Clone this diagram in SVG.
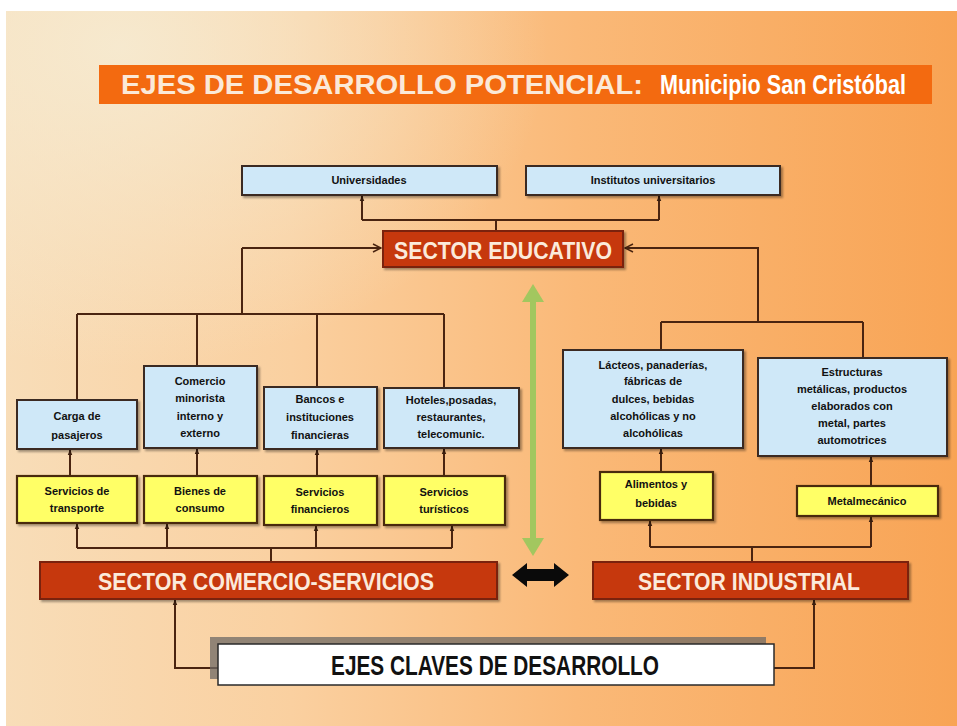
<svg xmlns="http://www.w3.org/2000/svg" width="957" height="726" viewBox="0 0 957 726">
<defs>
<linearGradient id="bg" x1="0" y1="0" x2="1" y2="0">
<stop offset="0" stop-color="#F8DDB8"/>
<stop offset="0.3" stop-color="#FAD0A0"/>
<stop offset="0.6" stop-color="#FAB978"/>
<stop offset="1" stop-color="#F8A455"/>
</linearGradient>
<radialGradient id="glow" cx="0.12" cy="0.05" r="0.45">
<stop offset="0" stop-color="#F6EBD2" stop-opacity="0.9"/>
<stop offset="1" stop-color="#F6EBD2" stop-opacity="0"/>
</radialGradient>
<marker id="ah" viewBox="0 0 10 10" refX="9" refY="5" markerWidth="6" markerHeight="6" orient="auto" markerUnits="userSpaceOnUse">
<path d="M0,1 L10,5 L0,9 z" fill="#3A1E0E"/>
</marker>
<marker id="oh" viewBox="0 0 10 10" refX="9" refY="5" markerWidth="10" markerHeight="10" orient="auto" markerUnits="userSpaceOnUse">
<path d="M1,1 L9,5 L1,9" fill="none" stroke="#4A2410" stroke-width="1.5"/>
</marker>
<filter id="sh" x="-10%" y="-10%" width="130%" height="140%">
<feDropShadow dx="2" dy="2" stdDeviation="1" flood-color="#000" flood-opacity="0.35"/>
</filter>
</defs>
<style>
.blue{fill:#CFE8F8;stroke:#3A2A20;stroke-width:2;filter:url(#sh)}
.yel{fill:#FFFF66;stroke:#4A2A10;stroke-width:2.2;filter:url(#sh)}
.red{fill:#C6380F;stroke:#7A2208;stroke-width:2;filter:url(#sh)}
.t{font-family:"Liberation Sans",Arial,sans-serif;font-weight:bold;font-size:11px;fill:#111;text-anchor:middle;dominant-baseline:central}
.rt{font-family:"Liberation Sans",Arial,sans-serif;font-weight:bold;font-size:24px;fill:#FBEADB;text-anchor:middle;dominant-baseline:central}
.ln{fill:none;stroke:#4A2410;stroke-width:2}
.ar{fill:none;stroke:#4A2410;stroke-width:2;marker-end:url(#ah)}
</style>
<rect x="0" y="0" width="957" height="726" fill="#FFFFFF"/>
<rect x="6" y="11" width="951" height="715" fill="url(#bg)"/>
<rect x="6" y="11" width="951" height="715" fill="url(#glow)"/>

<g id="title">
<rect x="99" y="65" width="833" height="39" fill="#F36A10"/>
<text x="121" y="85" font-family="'Liberation Sans',Arial,sans-serif" font-size="27" font-weight="bold" fill="#FBE9D8" dominant-baseline="central" textLength="522" lengthAdjust="spacingAndGlyphs">EJES DE DESARROLLO POTENCIAL:</text>
<text transform="translate(660,85) scale(0.8,1)" x="0" y="0" font-family="'Liberation Sans',Arial,sans-serif" font-size="27" font-weight="bold" fill="#FFFFFF" dominant-baseline="central">Municipio San Cristóbal</text>
</g>

<g id="connectors">
<path class="ln" d="M496,233 V220 M362,220 H659"/>
<path class="ar" d="M362,220 V196"/>
<path class="ar" d="M659,220 V196"/>
<path class="ln" d="M242,314 V248"/>
<path class="ln" d="M242,248 H381" marker-end="url(#oh)"/>
<path class="ln" d="M758,322 V248 H625" marker-end="url(#oh)"/>
<path class="ln" d="M77,314 H444 M77,314 V400 M197,314 V366 M317,314 V387 M444,314 V388"/>
<path class="ln" d="M661,322 H863 M661,322 V350 M863,322 V358"/>
<path class="ar" d="M70,476 V450"/>
<path class="ar" d="M197,476 V449"/>
<path class="ar" d="M317,476 V450"/>
<path class="ar" d="M444,476 V449"/>
<path class="ar" d="M661,472 V449"/>
<path class="ar" d="M871,486 V457"/>
<path class="ln" d="M271,562 V548 M77,548 H452"/>
<path class="ar" d="M77,548 V524"/>
<path class="ar" d="M167,548 V524"/>
<path class="ar" d="M316,548 V526"/>
<path class="ar" d="M452,548 V526"/>
<path class="ln" d="M752,562 V547 M650,547 H871"/>
<path class="ar" d="M650,547 V521"/>
<path class="ar" d="M871,547 V517"/>
<path class="ar" d="M218,668 H175 V600"/>
<path class="ar" d="M774,668 H814 V600"/>
<g id="green-arrow" opacity="0.85">
<line x1="533" y1="298" x2="533" y2="542" stroke="#93C95A" stroke-width="6"/>
<polygon points="533,284 522,302 544,302" fill="#93C95A"/>
<polygon points="533,556 522,538 544,538" fill="#93C95A"/>
</g>
<polygon id="black-arrow" points="512,575 527,563 527,569 554,569 554,563 569,575 554,587 554,581 527,581 527,587" fill="#0A0A0A"/>
</g>

<g id="universidades"><rect class="blue" x="242" y="166" width="255" height="29"/><text class="t" x="369" y="180">Universidades</text></g>
<g id="institutos"><rect class="blue" x="526" y="166" width="254" height="29"/><text class="t" x="653" y="180">Institutos universitarios</text></g>

<g id="sector-educativo"><rect class="red" x="383" y="231" width="240" height="36"/><text class="rt" x="503" y="250" textLength="218" lengthAdjust="spacingAndGlyphs">SECTOR EDUCATIVO</text></g>

<g id="carga"><rect class="blue" x="17" y="400" width="120" height="49"/><text class="t" x="77" y="416">Carga de</text><text class="t" x="77" y="435">pasajeros</text></g>
<g id="comercio"><rect class="blue" x="144" y="366" width="113" height="82"/><text class="t" x="200" y="381">Comercio</text><text class="t" x="200" y="398">minorista</text><text class="t" x="200" y="416">interno y</text><text class="t" x="200" y="433">externo</text></g>
<g id="bancos"><rect class="blue" x="264" y="387" width="113" height="62"/><text class="t" x="320" y="399">Bancos e</text><text class="t" x="320" y="417">instituciones</text><text class="t" x="320" y="435">financieras</text></g>
<g id="hoteles"><rect class="blue" x="384" y="388" width="135" height="60"/><text class="t" x="451" y="400">Hoteles,posadas,</text><text class="t" x="451" y="417">restaurantes,</text><text class="t" x="451" y="434">telecomunic.</text></g>

<g id="serv-transporte"><rect class="yel" x="17" y="476" width="120" height="47"/><text class="t" x="77" y="491">Servicios de</text><text class="t" x="77" y="508">transporte</text></g>
<g id="bienes-consumo"><rect class="yel" x="144" y="476" width="113" height="47"/><text class="t" x="200" y="491">Bienes de</text><text class="t" x="200" y="508">consumo</text></g>
<g id="serv-financieros"><rect class="yel" x="264" y="476" width="113" height="49"/><text class="t" x="320" y="492">Servicios</text><text class="t" x="320" y="509">financieros</text></g>
<g id="serv-turisticos"><rect class="yel" x="384" y="476" width="121" height="49"/><text class="t" x="444" y="492">Servicios</text><text class="t" x="444" y="509">turísticos</text></g>

<g id="lacteos"><rect class="blue" x="563" y="350" width="180" height="98"/><text class="t" x="653" y="365">Lácteos, panaderías,</text><text class="t" x="653" y="381">fábricas de</text><text class="t" x="653" y="399">dulces, bebidas</text><text class="t" x="653" y="416">alcohólicas y no</text><text class="t" x="653" y="433">alcohólicas</text></g>
<g id="estructuras"><rect class="blue" x="758" y="358" width="189" height="98"/><text class="t" x="852" y="372">Estructuras</text><text class="t" x="852" y="389">metálicas, productos</text><text class="t" x="852" y="406">elaborados con</text><text class="t" x="852" y="423">metal, partes</text><text class="t" x="852" y="440">automotrices</text></g>
<g id="alimentos"><rect class="yel" x="600" y="472" width="113" height="48"/><text class="t" x="656" y="484">Alimentos y</text><text class="t" x="656" y="503">bebidas</text></g>
<g id="metalmecanico"><rect class="yel" x="797" y="486" width="141" height="30"/><text class="t" x="867" y="501">Metalmecánico</text></g>

<g id="sector-comercio"><rect class="red" x="40" y="562" width="457" height="37"/><text class="rt" x="266" y="581" textLength="336" lengthAdjust="spacingAndGlyphs">SECTOR COMERCIO-SERVICIOS</text></g>
<g id="sector-industrial"><rect class="red" x="593" y="562" width="315" height="37"/><text class="rt" x="749" y="581" textLength="222" lengthAdjust="spacingAndGlyphs">SECTOR INDUSTRIAL</text></g>

<g id="ejes-claves">
<rect x="210" y="637" width="556" height="42" fill="#6E6A66" opacity="0.75"/>
<rect x="218" y="644" width="556" height="41" fill="#FFFFFF" stroke="#2A2A2A" stroke-width="1.5"/>
<text x="495" y="665" font-family="'Liberation Sans',Arial,sans-serif" font-size="28" font-weight="bold" fill="#111" text-anchor="middle" dominant-baseline="central" textLength="328" lengthAdjust="spacingAndGlyphs">EJES CLAVES DE DESARROLLO</text>
</g>
</svg>
